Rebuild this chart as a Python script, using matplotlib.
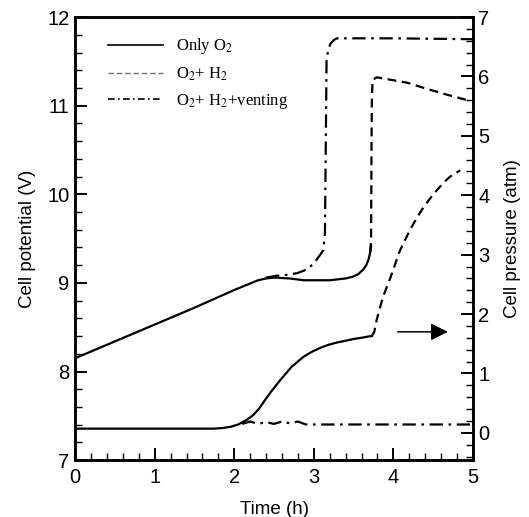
import matplotlib
matplotlib.use("Agg")
import matplotlib.pyplot as plt
from matplotlib.lines import Line2D
from matplotlib.ticker import MultipleLocator

plt.rcParams['font.family'] = ['Liberation Sans', 'DejaVu Sans']
plt.rcParams['mathtext.fontset'] = 'stix'

# cell potential (left axis)
only_o2_pot_t = [0, 0.5, 1.0, 1.5, 2.0, 2.3, 2.4, 2.5, 2.7, 2.87, 3.2, 3.4, 3.49, 3.56, 3.62, 3.66, 3.69, 3.71, 3.72]
only_o2_pot_v = [8.15, 8.34, 8.53, 8.72, 8.92, 9.03, 9.05, 9.06, 9.05, 9.03, 9.03, 9.05, 9.07, 9.1, 9.15, 9.2, 9.27, 9.35, 9.42]

h2_pot_t = [3.71, 3.72, 3.725, 3.73, 3.74, 3.79, 4.17, 4.42, 4.69, 4.94]
h2_pot_v = [9.35, 9.5, 10.5, 11.1, 11.29, 11.32, 11.26, 11.19, 11.12, 11.06]

vent_pot_t = [2.4, 2.53, 2.65, 2.79, 2.88, 2.95, 3.01, 3.05, 3.09, 3.12, 3.14, 3.15, 3.16, 3.18, 3.21, 3.25, 3.29, 4.0, 5.0]
vent_pot_v = [9.06, 9.08, 9.09, 9.11, 9.14, 9.18, 9.23, 9.28, 9.33, 9.37, 9.56, 10.5, 11.5, 11.63, 11.7, 11.74, 11.76, 11.76, 11.75]

# cell pressure (right axis)
only_o2_p_t = [0, 1.0, 1.74, 1.85, 1.95, 2.05, 2.16, 2.24, 2.32, 2.38, 2.45, 2.52, 2.58, 2.65, 2.72, 2.8, 2.87,
               2.97, 3.08, 3.18, 3.29, 3.4, 3.5, 3.6, 3.68, 3.73]
only_o2_p = [0.07, 0.07, 0.07, 0.08, 0.1, 0.14, 0.22, 0.3, 0.42, 0.54, 0.67, 0.79, 0.89, 1.0, 1.11, 1.2, 1.28,
             1.36, 1.43, 1.48, 1.52, 1.55, 1.58, 1.6, 1.62, 1.63]

h2_p_t = [3.73, 3.76, 3.79, 3.87, 3.96, 4.08, 4.21, 4.3, 4.38, 4.47, 4.55, 4.63, 4.71, 4.78, 4.84]
h2_p = [1.63, 1.7, 1.9, 2.29, 2.6, 3.06, 3.42, 3.63, 3.8, 3.96, 4.09, 4.21, 4.31, 4.37, 4.42]

vent_p_t = [2.1, 2.2, 2.3, 2.4, 2.5, 2.6, 2.7, 2.8, 2.9, 5.0]
vent_p = [0.15, 0.19, 0.15, 0.18, 0.15, 0.19, 0.16, 0.19, 0.14, 0.14]

dash = (0, (4, 2.5))
dashdot = (0, (6, 2.5, 1.2, 2.5))

fig = plt.figure(figsize=(5.29, 5.17), dpi=100)
ax = fig.add_axes([0.142, 0.110, 0.752, 0.857])
ax2 = ax.twinx()

lw = 1.6
ax.plot(only_o2_pot_t, only_o2_pot_v, color='k', lw=lw)
ax.plot(h2_pot_t, h2_pot_v, color='k', lw=lw, ls=dash)
ax.plot(vent_pot_t, vent_pot_v, color='k', lw=lw, ls=dashdot)

ax2.plot(only_o2_p_t, only_o2_p, color='k', lw=lw)
ax2.plot(h2_p_t, h2_p, color='k', lw=lw, ls=dash)
ax2.plot(vent_p_t, vent_p, color='k', lw=lw, ls=dashdot)

ax2.annotate('', xy=(4.72, 1.7), xytext=(4.02, 1.7),
             arrowprops=dict(arrowstyle='-|>', color='k', lw=1.1, mutation_scale=26))

ax.set_xlim(0, 5)
ax.set_ylim(7, 12)
ax2.set_ylim(-0.46, 7)

ax.xaxis.set_major_locator(MultipleLocator(1))
ax.xaxis.set_minor_locator(MultipleLocator(0.2))
ax.yaxis.set_major_locator(MultipleLocator(1))
ax.yaxis.set_minor_locator(MultipleLocator(0.2))
ax2.yaxis.set_major_locator(MultipleLocator(1))
ax2.yaxis.set_minor_locator(MultipleLocator(0.2))

for a in (ax, ax2):
    a.tick_params(which='major', direction='in', length=8.5, width=1.4, labelsize=14.5, pad=4)
    a.tick_params(which='minor', direction='in', length=5, width=1.0)
    for s in a.spines.values():
        s.set_linewidth(1.8)
ax.tick_params(axis='x', which='both', top=False)
ax.tick_params(axis='x', which='major', pad=6)
ax.tick_params(axis='y', which='both', right=False)

ax.set_xlabel('Time (h)', fontsize=13.5, labelpad=10)
ax.set_ylabel('Cell potential (V)', fontsize=13.5, labelpad=8)
ax2.set_ylabel('Cell pressure (atm)', fontsize=13.5, labelpad=10)

handles = [
    Line2D([], [], color='k', lw=1.2),
    Line2D([], [], color='0.45', lw=1.0, ls=(0, (4, 2))),
    Line2D([], [], color='k', lw=1.2, ls=(0, (4, 2, 1, 2))),
]
labels = ['Only O$_2$', 'O$_2$+ H$_2$', 'O$_2$+ H$_2$+venting']
ax.legend(handles, labels, loc='upper left', bbox_to_anchor=(0.045, 0.99), frameon=False,
          prop={'family': 'Liberation Serif', 'size': 12}, handlelength=3.3,
          handletextpad=0.8, labelspacing=0.55)

fig.savefig('out.png', dpi=100)
